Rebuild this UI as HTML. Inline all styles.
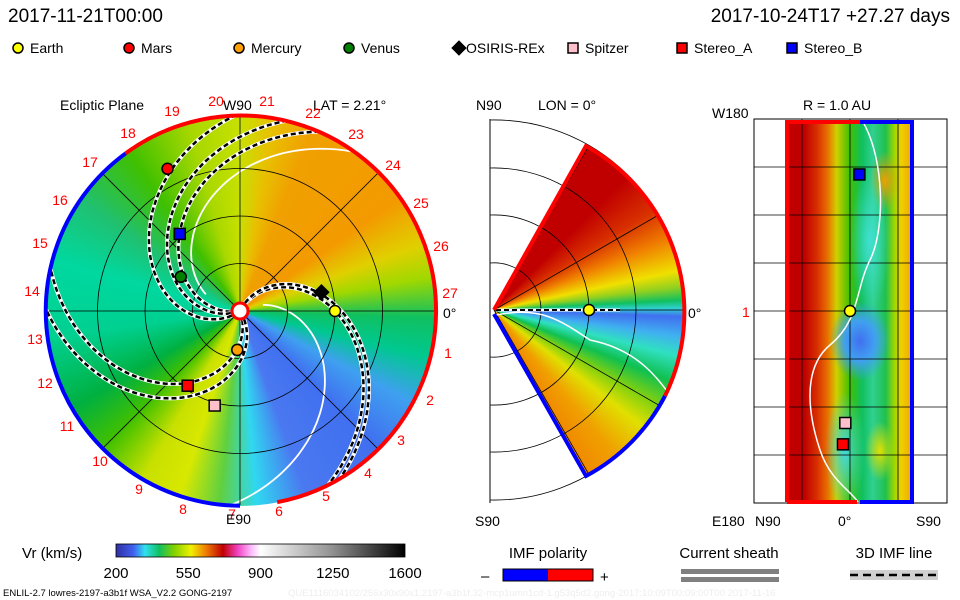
<!DOCTYPE html>
<html><head><meta charset="utf-8"><style>
body{margin:0;background:#fff;width:960px;height:600px;overflow:hidden;position:relative;font-family:"Liberation Sans",sans-serif}
.abs{position:absolute}
</style></head><body>
<div class="abs" style="left:45px;top:116px;width:390px;height:390px;border-radius:50%;background:
conic-gradient(from 0deg,#c8e000 0deg,#e8c000 10deg,#f0a000 22deg,#f39a00 55deg,#e0d000 70deg,#a0d800 80deg,#10c060 92deg,#00c890 104deg,#3fa0f0 118deg,#4070f0 135deg,#4a78f0 160deg,#30d8f0 175deg,#60d040 186deg,#d8e800 198deg,#c8e000 210deg,#40c000 225deg,#00b040 240deg,#00d090 262deg,#00d8a0 285deg,#20c070 305deg,#40c000 325deg,#a8d800 345deg,#c8e000 360deg)"></div>
<div class="abs" style="left:304px;top:120px;width:380px;height:380px;border-radius:50%;clip-path:polygon(50% 50%,98.5% -37.5%,150% -37.5%,150% 137.5%,98.5% 137.5%);background:conic-gradient(from 0deg,#c00000 0deg,#c00000 45deg,#d83000 58deg,#f08000 68deg,#f0e000 78deg,#90d020 83deg,#10c060 87deg,#30d0d0 89.5deg,#4070f0 92deg,#40b0f0 98deg,#30e0c0 104deg,#10c050 112deg,#80d010 120deg,#e0e000 128deg,#f0a000 140deg,#f08000 155deg)"></div>
<div class="abs" style="left:785px;top:121px;width:129px;height:381px;background:
radial-gradient(ellipse 30px 40px at 75px 220px,#4070f0 0,#40a0f0 50%,rgba(64,200,240,0) 100%),
radial-gradient(ellipse 20px 60px at 60px 330px,#40d8e0 0,rgba(64,216,224,0) 100%),
radial-gradient(ellipse 20px 70px at 85px 120px,#40e0d0 0,rgba(64,224,208,0) 100%),
radial-gradient(ellipse 15px 30px at 100px 60px,#f0a000 0,rgba(240,160,0,0) 100%),
radial-gradient(ellipse 15px 30px at 95px 330px,#e0e000 0,rgba(224,224,0,0) 100%),
linear-gradient(90deg,#c00000 0,#c00000 15%,#d83000 25%,#e87000 33%,#d0d000 40%,#40c000 50%,#10c060 60%,#30d090 68%,#20c050 78%,#a0d800 85%,#f0d000 90%,#f0a000 100%)"></div>

<svg class="abs" style="left:0;top:0" width="960" height="600" xmlns="http://www.w3.org/2000/svg" font-family="Liberation Sans, sans-serif">
<defs><clipPath id="disc"><circle cx="240" cy="311" r="194"/></clipPath></defs>
<text x="8" y="22" font-size="19">2017-11-21T00:00</text>
<text x="950" y="22" font-size="19" text-anchor="end">2017-10-24T17 +27.27 days</text>
<g id="legend" font-size="14"></g>
<g id="left"></g>
<g id="mid"></g>
<g id="right"></g>
<g id="bottom"></g>
</svg>
<script>
const NS="http://www.w3.org/2000/svg";
function mk(p,t,a,txt){const e=document.createElementNS(NS,t);for(const k in a)e.setAttribute(k,a[k]);if(txt!==undefined)e.textContent=txt;p.appendChild(e);return e;}
// data
const bodyNames=["Earth","Mars","Mercury","Venus","OSIRIS-REx","Spitzer","Stereo_A","Stereo_B"];
const bodyShapes=["circle","circle","circle","circle","diamond","square","square","square"];
const bodyColors=["#ffff00","#ff0000","#ffa000","#008000","#000000","#ffc0cb","#ff0000","#0000ff"];
const bodyR=[1.0,1.68,0.41,0.72,0.88,1.03,0.96,1.03];
const bodyLon=[0,117,266,150,13,255,235,128];
const bodyLat=[0,0,0,0,0,2,3,-4];
const legendX=[12,123,233,343,453,567,676,786];
const colorbarTicks=[200,550,900,1250,1600];
const imfLinePhase=[60,64,190,200,215,290,302];
const carringtonLabels=["17","18","19","20","21","22","23","24","25","26","27","1","2","3","4","5","6","7","8","9","10","11","12","13","14","15","16"];
const carringtonPos=[[90,167],[128,138],[172,116],[216,106],[267,106],[313,118],[356,139],[393,170],[421,208],[441,251],[450,298],[448,358],[430,405],[401,445],[368,478],[326,501],[279,516],[232,519],[183,514],[139,494],[100,466],[67,431],[45,388],[35,344],[32,296],[40,248],[60,205]];
// helpers
const CX=240,CY=311,AU=95;
function px(r,deg){const a=deg*Math.PI/180;return [CX+r*AU*Math.cos(a),CY-r*AU*Math.sin(a)];}
function marker(g,shape,x,y,color,s){let e;
 if(shape==="circle")e=mk(g,"circle",{cx:x,cy:y,r:s,fill:color,stroke:"#000","stroke-width":1.5});
 else if(shape==="square")e=mk(g,"rect",{x:x-s,y:y-s,width:2*s,height:2*s,fill:color,stroke:"#000","stroke-width":1.5});
 else e=mk(g,"polygon",{points:`${x},${y-s-2} ${x+s+2},${y} ${x},${y+s+2} ${x-s-2},${y}`,fill:color,stroke:"#000","stroke-width":1});
 return e;}
// legend
const lg=document.getElementById('legend');
bodyNames.forEach((n,i)=>{const m=marker(lg,bodyShapes[i],legendX[i]+6,48,bodyColors[i],5);


const t=mk(lg,"text",{x:legendX[i]+(bodyShapes[i]==="diamond"?13:18),y:53},n);

});
// left panel
const L=document.getElementById('left');
const LC=mk(L,"g",{"clip-path":"url(#disc)"});
mk(L,"text",{x:60,y:110,"font-size":14},"Ecliptic Plane");
mk(L,"text",{x:313,y:110,"font-size":14},"LAT = 2.21°");
mk(L,"text",{x:443,y:318,"font-size":14},"0°");
carringtonLabels.forEach((c,i)=>{const t=mk(L,"text",{x:carringtonPos[i][0],y:carringtonPos[i][1],"font-size":14,fill:"#ff0000","text-anchor":"middle"},c);

});
mk(L,"text",{x:223,y:110,"font-size":14},"W90");
mk(L,"text",{x:226,y:524,"font-size":14},"E90");
[[30,0.25,2.1],[178,0.4,2.1]].forEach(s=>{let d="";for(let r=s[1];r<=s[2];r+=0.02){const [x,y]=px(r,s[0]-60*r);d+=(d?"L":"M")+x.toFixed(1)+","+y.toFixed(1);}
mk(LC,"path",{d,fill:"none",stroke:"#fff","stroke-width":1.8});});
[0.5,1,1.5].forEach(r=>mk(LC,"circle",{cx:CX,cy:CY,r:r*AU,fill:"none",stroke:"#000","stroke-width":0.8}));
[0,45,90,135].forEach(a=>{const [x1,y1]=px(2.05,a),[x2,y2]=px(2.05,a+180);mk(LC,"line",{x1,y1,x2,y2,stroke:"#000","stroke-width":0.8});});
imfLinePhase.forEach(p=>{let d="";for(let r=0.1;r<=2.1;r+=0.02){const [x,y]=px(r,p-60*r);d+=(d?"L":"M")+x.toFixed(1)+","+y.toFixed(1);}
const w=mk(LC,"path",{d,fill:"none",stroke:"#fff","stroke-width":4});


const b=mk(LC,"path",{d,fill:"none",stroke:"#000","stroke-width":2.5,"stroke-dasharray":"5 3"});

});
mk(L,"path",{d:`M${px(2.05,126).join(",")} A195,195 0 1 1 ${px(2.05,-79).join(",")}`,fill:"none",stroke:"#ff0000","stroke-width":4});
mk(L,"path",{d:`M${px(2.05,126).join(",")} A195,195 0 0 0 ${px(2.05,-90).join(",")}`,fill:"none",stroke:"#0000ff","stroke-width":4});
mk(L,"circle",{cx:CX,cy:CY,r:8,fill:"#fff",stroke:"#ff0000","stroke-width":3});
bodyNames.forEach((n,i)=>{const [x,y]=px(bodyR[i],bodyLon[i]);const m=marker(L,bodyShapes[i],x,y,bodyColors[i],5.5);

});
// middle panel
const M=document.getElementById('mid');const MX=494,MY=310;
mk(M,"text",{x:476,y:110,"font-size":14},"N90");
mk(M,"text",{x:538,y:110,"font-size":14},"LON = 0°");
mk(M,"text",{x:475,y:526,"font-size":14},"S90");
mk(M,"text",{x:688,y:318,"font-size":14},"0°");
mk(M,"line",{x1:490,y1:119,x2:490,y2:503,stroke:"#000"});
[47,95,142,190].forEach(r=>mk(M,"path",{d:`M490,${MY-r} A${r},${r} 0 0 1 ${MX+r},${MY} A${r},${r} 0 0 1 490,${MY+r}`,fill:"none",stroke:"#000","stroke-width":0.8}));
[60,30,0,-30,-60].forEach(a=>{const t=a*Math.PI/180;mk(M,"line",{x1:MX,y1:MY,x2:MX+190*Math.cos(t),y2:MY-190*Math.sin(t),stroke:"#000","stroke-width":0.8});});
mk(M,"path",{d:"M496,315 C540,306 560,320 590,340 C640,350 660,380 680,410",fill:"none",stroke:"#fff","stroke-width":1.5});
mk(M,"line",{x1:496,y1:310,x2:620,y2:310,stroke:"#fff","stroke-width":3});
mk(M,"line",{x1:496,y1:310,x2:620,y2:310,stroke:"#000","stroke-width":2,"stroke-dasharray":"5 3"});
mk(M,"path",{d:`M${MX},${MY} L586,146 A190,190 0 0 1 665,396`,fill:"none",stroke:"#ff0000","stroke-width":4});
mk(M,"path",{d:`M${MX},${MY+4} L586,476 A190,190 0 0 0 665,396`,fill:"none",stroke:"#0000ff","stroke-width":4});
const me=marker(M,"circle",MX+bodyR[0]*AU,MY,bodyColors[0],5.5);


// right panel
const R=document.getElementById('right');
mk(R,"text",{x:803,y:110,"font-size":14},"R = 1.0 AU");
mk(R,"text",{x:712,y:118,"font-size":14},"W180");
mk(R,"text",{x:712,y:526,"font-size":14},"E180");
mk(R,"text",{x:755,y:526,"font-size":14},"N90");
mk(R,"text",{x:838,y:526,"font-size":14},"0°");
mk(R,"text",{x:916,y:526,"font-size":14},"S90");
mk(R,"text",{x:742,y:317,"font-size":14,fill:"#ff0000"},"1");
mk(R,"rect",{x:754,y:119,width:193,height:384,fill:"none",stroke:"#000"});
[167,215,263,311,359,407,455].forEach(y=>mk(R,"line",{x1:754,y1:y,x2:947,y2:y,stroke:"#000","stroke-width":0.8}));
[802,850,898].forEach(x=>mk(R,"line",{x1:x,y1:119,x2:x,y2:503,stroke:"#000","stroke-width":0.8}));
mk(R,"path",{d:"M863,122 C885,160 885,230 870,260 C855,290 860,320 830,345 C800,370 810,420 820,450 C830,480 850,490 858,502",fill:"none",stroke:"#fff","stroke-width":1.5});
mk(R,"path",{d:"M787,502 L787,122 L860,122",fill:"none",stroke:"#ff0000","stroke-width":4});
mk(R,"path",{d:"M860,122 L912,122 L912,502 L860,502",fill:"none",stroke:"#0000ff","stroke-width":4});
mk(R,"line",{x1:787,y1:502,x2:857,y2:502,stroke:"#ff0000","stroke-width":4});
function rY(lon){const l=((lon+180)%360+360)%360-180;return 311-l*(192/180);}
function rX(lat){return 850-lat*(96/90)*2.2;}
["Earth","Stereo_B","Spitzer","Stereo_A"].forEach(n=>{const i=bodyNames.indexOf(n);const m=marker(R,bodyShapes[i],rX(bodyLat[i]),rY(bodyLon[i]),bodyColors[i],5.5);

});
// bottom
const B=document.getElementById('bottom');
const defs=mk(B,"defs",{});const lgd=mk(defs,"linearGradient",{id:"cb"});
[["0","#3030a0"],["0.06","#4060f0"],["0.1","#30e0f0"],["0.15","#10c060"],["0.2","#80d000"],["0.26","#f0f000"],["0.31","#f08000"],["0.37","#c00000"],["0.42","#f040c0"],["0.47","#ffc0ff"],["0.5","#ffffff"],["0.75","#909090"],["1","#000000"]].forEach(s=>mk(lgd,"stop",{offset:s[0],"stop-color":s[1]}));
mk(B,"text",{x:22,y:558,"font-size":15},"Vr (km/s)");
const cb=mk(B,"rect",{x:116,y:544,width:289,height:13,fill:"url(#cb)",stroke:"#000","stroke-width":0.8});


colorbarTicks.forEach((v,i)=>{const x=116+(v-200)/1400*289;const t=mk(B,"text",{x,y:578,"font-size":15,"text-anchor":"middle"},String(v));

});
mk(B,"text",{x:548,y:558,"font-size":15,"text-anchor":"middle"},"IMF polarity");
mk(B,"text",{x:481,y:581,"font-size":15},"–");
mk(B,"rect",{x:503,y:569,width:45,height:12,fill:"#0000ff"});
mk(B,"rect",{x:548,y:569,width:45,height:12,fill:"#ff0000"});
mk(B,"rect",{x:503,y:569,width:90,height:12,fill:"none",stroke:"#000"});
mk(B,"text",{x:600,y:582,"font-size":15},"+");
mk(B,"text",{x:729,y:558,"font-size":15,"text-anchor":"middle"},"Current sheath");
mk(B,"rect",{x:681,y:569,width:98,height:5,fill:"#808080"});
mk(B,"rect",{x:681,y:577,width:98,height:5,fill:"#808080"});
mk(B,"text",{x:894,y:558,"font-size":15,"text-anchor":"middle"},"3D IMF line");
mk(B,"rect",{x:850,y:570,width:88,height:10,fill:"#d0d0d0"});
mk(B,"line",{x1:850,y1:575,x2:938,y2:575,stroke:"#000","stroke-width":2.5,"stroke-dasharray":"8 5"});
mk(B,"text",{x:3,y:596,"font-size":9.5},"ENLIL-2.7 lowres-2197-a3b1f WSA_V2.2 GONG-2197");
mk(B,"text",{x:288,y:596,"font-size":9.5,fill:"#eeeeee"},"QUE1116034102/256x30x90x1.2197-a3b1f.32-mcp1umn1cd-1.g53q5d2.gong-2017:10:09T00:09:00T00     2017-11-16");
</script>
</body></html>
